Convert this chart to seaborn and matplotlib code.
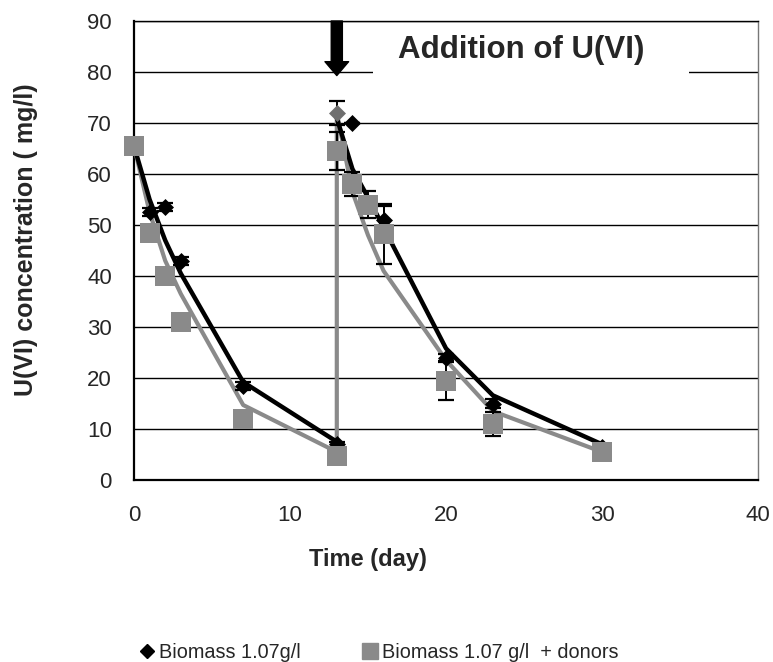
import matplotlib
matplotlib.use("Agg")
import matplotlib.pyplot as plt
from matplotlib.patches import Rectangle
from matplotlib.lines import Line2D
import seaborn as sns
import pandas as pd

# ---- measured data (markers) ----
bio_days = [0, 1, 2, 3, 7, 13, 14, 16, 20, 23, 30]
bio_vals = [65.5, 52.5, 53.5, 43, 18.5, 7, 70, 51, 24, 15, 6.5]
bio_err = [0, 0.8, 0.8, 0.8, 0.8, 0.5, 0, 2.7, 0.8, 0.8, 0.3]

add_day = [13]
add_val = [72]
add_err = [2.3]

don_days = [0, 1, 2, 3, 7, 13, 13, 14, 15, 16, 20, 23, 30]
don_vals = [65.5, 48.5, 40, 31, 12, 4.8, 64.5, 58, 54, 48.3, 19.5, 11, 5.5]
don_err = [0, 0, 0, 0, 0, 0, 3.7, 2.4, 2.6, 5.9, 3.8, 2.4, 0]

# ---- model curves ----
bio_fit_days = [0, 1, 2, 3, 7, 13, 13, 14, 15, 16, 20, 23, 30]
bio_fit_vals = [65.5, 55, 47, 40.5, 19.2, 7.5, 71, 61, 55.4, 49.5, 25.8, 16.6, 7]
bio_fit_seg = [1, 1, 1, 1, 1, 1, 2, 2, 2, 2, 2, 2, 2]

don_fit_days = [0, 1, 2, 3, 7, 13, 13, 14, 15, 16, 20, 23, 30]
don_fit_vals = [65.5, 52.5, 43, 36.5, 14.7, 5.5, 72, 56.5, 48, 41, 23.5, 13.5, 5.5]

x_ticks = [0, 10, 20, 30, 40]
y_ticks = [0, 10, 20, 30, 40, 50, 60, 70, 80, 90]

legend_labels = ["Biomass 1.07g/l", "Biomass 1.07 g/l  + donors"]
annotation = "Addition of U(VI)"

GRAY = "#8a8a8a"

sns.set_style("white")
plt.rcParams['font.family'] = ['Liberation Sans', 'DejaVu Sans']

fig = plt.figure(figsize=(7.73, 6.62), dpi=100)
ax = fig.add_axes([134/773, 1-480/662, (758-134)/773, (480-21)/662])

bio_fit = pd.DataFrame({"day": bio_fit_days, "val": bio_fit_vals, "seg": bio_fit_seg})
don_fit = pd.DataFrame({"day": don_fit_days, "val": don_fit_vals})

sns.lineplot(data=don_fit, x="day", y="val", sort=False, estimator=None,
             color=GRAY, lw=3, ax=ax, zorder=3)
sns.lineplot(data=bio_fit, x="day", y="val", units="seg", sort=False, estimator=None,
             color="black", lw=3.2, ax=ax, zorder=4)

# error bars
for d, v, e in [(don_days, don_vals, don_err), (bio_days, bio_vals, bio_err),
                (add_day, add_val, add_err)]:
    ax.errorbar(d, v, yerr=e, fmt="none", ecolor="black",
                elinewidth=1.4, capsize=6, capthick=1.6, zorder=5)

sns.scatterplot(x=bio_days, y=bio_vals, marker="D", s=75, color="black",
                edgecolor="black", linewidth=0, ax=ax, zorder=6)
sns.scatterplot(x=add_day, y=add_val, marker="D", s=75, color="#6f6f6f",
                edgecolor="#6f6f6f", linewidth=0, ax=ax, zorder=6)
sns.scatterplot(x=don_days, y=don_vals, marker="s", s=200, color=GRAY,
                edgecolor=GRAY, linewidth=0, ax=ax, zorder=7)
for coll in ax.collections:
    coll.set_clip_on(False)

ax.set_xlim(0, 40)
ax.set_ylim(0, 90)
ax.set_xticks(x_ticks)
ax.set_yticks(y_ticks)
ax.tick_params(axis="x", direction="in", length=7, width=1, labelsize=16, pad=18)
ax.tick_params(axis="y", direction="out", length=7, width=1, labelsize=16, pad=9)
ax.yaxis.grid(True, color="black", lw=1)
ax.set_axisbelow(True)

for side in ["left", "bottom"]:
    ax.spines[side].set_color("black")
    ax.spines[side].set_linewidth(1.6)
ax.spines["top"].set_color("black")
ax.spines["top"].set_linewidth(1)
ax.spines["right"].set_color("#777777")
ax.spines["right"].set_linewidth(1)

ax.set_xlabel("Time (day)", fontsize=17, fontweight="bold")
ax.set_ylabel("U(VI) concentration ( mg/l)", fontsize=18, fontweight="bold")
ax.xaxis.set_label_coords(0.375, -0.148)
ax.xaxis.label.set_va("top")
ax.yaxis.set_label_coords(-0.154, 0.523)

# annotation box and arrow
ax.add_patch(Rectangle((15.3, 75), 20.3, 13, facecolor="white", edgecolor="none", zorder=1))
ax.text(24.8, 84.3, annotation, fontsize=22.5, fontweight="bold", ha="center", va="center", zorder=2)
ax.annotate("", xy=(13, 79.3), xytext=(13, 90),
            arrowprops=dict(facecolor="black", edgecolor="black", width=8,
                            headwidth=17, headlength=10, shrink=0),
            annotation_clip=False, zorder=8)

handles = [
    Line2D([], [], marker="D", color="black", linestyle="none", markersize=7.6),
    Line2D([], [], marker="s", color=GRAY, linestyle="none", markersize=12),
]
fig.legend(handles, legend_labels, loc="center left", bbox_to_anchor=(137/773, 1-652/662),
           ncol=2, frameon=False, fontsize=14.3, handletextpad=0.1,
           columnspacing=3.0, handlelength=1.0, borderpad=0, borderaxespad=0)

fig.savefig("out.png", dpi=100)
